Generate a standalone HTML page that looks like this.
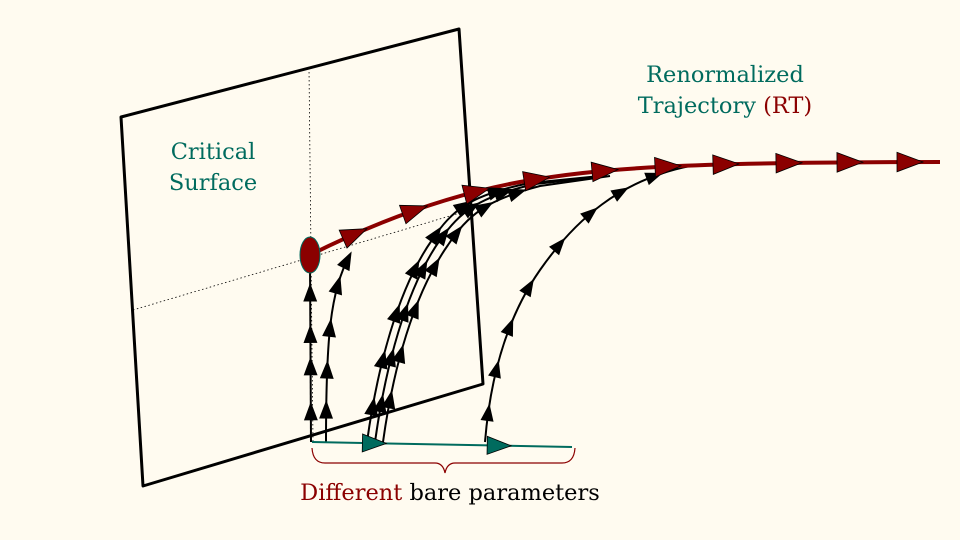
<!DOCTYPE html>
<html><head><meta charset="utf-8"><style>
html,body{margin:0;padding:0;background:#fffbf0;}
svg{display:block}
text{font-family:"DejaVu Serif","Liberation Serif",serif;font-size:22.5px;}
</style></head><body>
<svg id="s" width="960" height="540" viewBox="0 0 960 540" xmlns="http://www.w3.org/2000/svg">
<rect width="960" height="540" fill="#fffbf0"/>
<polygon points="121,117 459,29 483,384 143,486" fill="none" stroke="#000" stroke-width="3" stroke-linejoin="round"/>
<line x1="309" y1="68" x2="313" y2="442" stroke="#000" stroke-width="0.8" stroke-dasharray="1.5,2.5"/>
<line x1="133" y1="310" x2="470" y2="210" stroke="#000" stroke-width="0.8" stroke-dasharray="1.5,2.5"/>
<g id="paths" fill="none" stroke="#000" stroke-width="2">
<path id="pA" d="M311,442 L310,262"/>
<path id="pB" d="M326,442 C326,340 330,290 350,255"/>
<path id="pC1" d="M367,442 C377,370 397,290 432,240 C452,210 470,195 530,183 L600,176"/>
<path id="pC2" d="M375,442 C385,370 405,290 440,240 C460,212 478,197 535,184 L600,177"/>
<path id="pC3" d="M383,442 C393,370 413,295 448,245 C468,215 486,200 540,186 L610,176"/>
<path id="pD" d="M485,442 C490,380 505,320 540,270 C575,220 620,180 690,166"/>
</g>
<path id="pR" d="M310,255 C380,220 450,195 520,182 C600,168 680,162 940,162" fill="none" stroke="#8b0000" stroke-width="4"/>
<ellipse cx="310" cy="255" rx="10" ry="18" fill="#8b0000" stroke="#006b5e" stroke-width="1"/>
<path id="pG" d="M312,442 L572,447" fill="none" stroke="#006b5e" stroke-width="2"/>
<path d="M312,448 Q313,463 325,463 L435,463 Q443,463 445,473 Q447,463 455,463 L562,463 Q574,463 575,448" fill="none" stroke="#8b0000" stroke-width="1.2"/>
<g id="heads"></g>
<text x="213" y="159" fill="#006b5e" text-anchor="middle">Critical</text>
<text x="213" y="190" fill="#006b5e" text-anchor="middle">Surface</text>
<text x="725" y="82" fill="#006b5e" text-anchor="middle">Renormalized</text>
<text x="725" y="113" text-anchor="middle"><tspan fill="#006b5e">Trajectory </tspan><tspan fill="#8b0000">(RT)</tspan></text>
<text x="450" y="500" text-anchor="middle"><tspan fill="#8b0000">Different</tspan><tspan fill="#000"> bare parameters</tspan></text>
</svg>
<script>
(function(){
var NS="http://www.w3.org/2000/svg",g=document.getElementById("heads");
function heads(id,fr,size,fill){
 var p=document.getElementById(id),L=p.getTotalLength();
 fr.forEach(function(f){
  var a=p.getPointAtLength(L*f),b=p.getPointAtLength(Math.min(L,L*f+1)),c=p.getPointAtLength(Math.max(0,L*f-1));
  var ang=Math.atan2(b.y-c.y,b.x-c.x)*180/Math.PI;
  var t=document.createElementNS(NS,"polygon");
  t.setAttribute("points",(size)+",0 "+(-size)+","+(-size*0.75)+" "+(-size)+","+(size*0.75));
  t.setAttribute("fill",fill);t.setAttribute("stroke","#000");t.setAttribute("stroke-width","0.8");
  t.setAttribute("transform","translate("+a.x+","+a.y+") rotate("+ang+")");
  g.appendChild(t);
 });
}
heads("pA",[0.17,0.42,0.6,0.83],8.5,"#000");
heads("pB",[0.17,0.38,0.6,0.83,0.97],8.5,"#000");
var cf=[0.09,0.21,0.33,0.45,0.55,0.65,0.74];
heads("pC1",cf,8.5,"#000");heads("pC2",cf.map(function(x){return x+0.01}),8.5,"#000");heads("pC3",cf.map(function(x){return x+0.02}),8.5,"#000");
heads("pD",[0.08,0.2,0.32,0.44,0.58,0.7,0.8,0.9],8,"#000");
var r=document.getElementById("pR"),L=r.getTotalLength(),xs=[355,415,477,537,605,668,726,789,850,910],fr=[];
xs.forEach(function(x){var lo=0,hi=L;for(var i=0;i<30;i++){var m=(lo+hi)/2;if(r.getPointAtLength(m).x<x)lo=m;else hi=m;}fr.push(lo/L);});
heads("pR",fr,13,"#8b0000");
heads("pG",[0.24,0.72],12,"#006b5e");
})();
</script>
</body></html>
